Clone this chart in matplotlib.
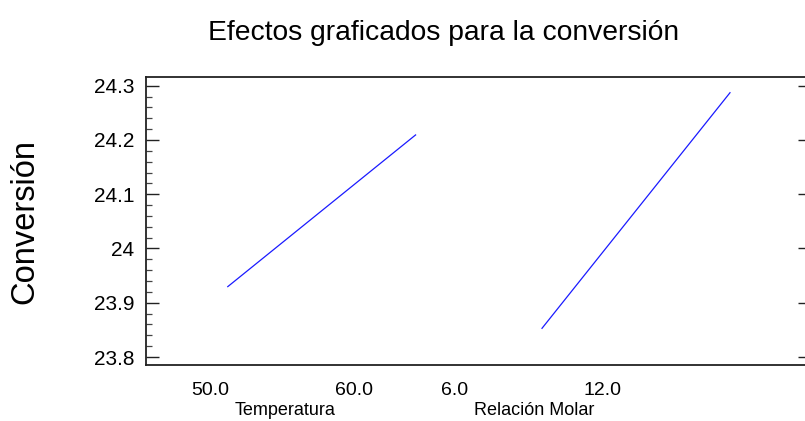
import matplotlib
matplotlib.use("Agg")
import matplotlib.pyplot as plt
from matplotlib.ticker import MultipleLocator, FixedLocator

# ---- data ----
factors = ["Temperatura", "Relación Molar"]
temp_levels = [50.0, 60.0]
temp_conv = [23.929, 24.210]
molar_levels = [6.0, 12.0]
molar_conv = [23.852, 24.288]
level_labels = ["50.0", "60.0", "6.0", "12.0"]
y_ticks = [23.8, 23.9, 24.0, 24.1, 24.2, 24.3]
y_tick_labels = ["23.8", "23.9", "24", "24.1", "24.2", "24.3"]

title = "Efectos graficados para la conversión"
ylabel = "Conversión"

# ---- layout ----
W, H = 805, 421
fig = plt.figure(figsize=(W / 100, H / 100), dpi=100)
plt.rcParams['font.family'] = ['Liberation Sans', 'DejaVu Sans']

ax_left, ax_right, ax_top, ax_bot = 146.3, 811.0, 76.7, 365.0
ax = fig.add_axes([ax_left / W, 1 - ax_bot / H, (ax_right - ax_left) / W, (ax_bot - ax_top) / H])

seg_offsets = [0.0, 1.665]          # horizontal start of each factor's segment
label_pos = [-0.092, 0.672, 1.206, 1.987]

for off, lev, conv in [(seg_offsets[0], temp_levels, temp_conv),
                       (seg_offsets[1], molar_levels, molar_conv)]:
    xs = [off + (v - lev[0]) / (lev[-1] - lev[0]) for v in lev]
    ax.plot(xs, conv, color="#1a1aff", lw=0.9, solid_capstyle="butt")

ax.set_xlim(-0.429, 3.092)
ax.set_ylim(23.7853, 24.3166)

ax.yaxis.set_major_locator(FixedLocator(y_ticks))
ax.set_yticklabels(y_tick_labels)
ax.yaxis.set_minor_locator(MultipleLocator(0.02))
ax.tick_params(axis="y", which="major", direction="in", length=9.4, width=1.0,
               left=True, right=True, labelsize=15, pad=8.5, color="#222222")
ax.tick_params(axis="y", which="minor", direction="in", length=4.3, width=0.9,
               left=True, right=True, color="#444444")

ax.set_xticks(label_pos)
ax.set_xticklabels(level_labels)
ax.tick_params(axis="x", which="both", length=0, labelsize=14, pad=12.5)

for s in ax.spines.values():
    s.set_linewidth(1.3)
    s.set_color("#222222")

fig.text(444 / W, 1 - 40 / H, title, ha="center", va="baseline", fontsize=20.3)
fig.text(25 / W, 1 - 221 / H, ylabel, ha="center", va="center", rotation=90, fontsize=23.5)
fig.text(285 / W, 1 - 415 / H, factors[0], ha="center", va="baseline", fontsize=13)
fig.text(534 / W, 1 - 415 / H, factors[1], ha="center", va="baseline", fontsize=13)

fig.savefig("out.png", dpi=100)
